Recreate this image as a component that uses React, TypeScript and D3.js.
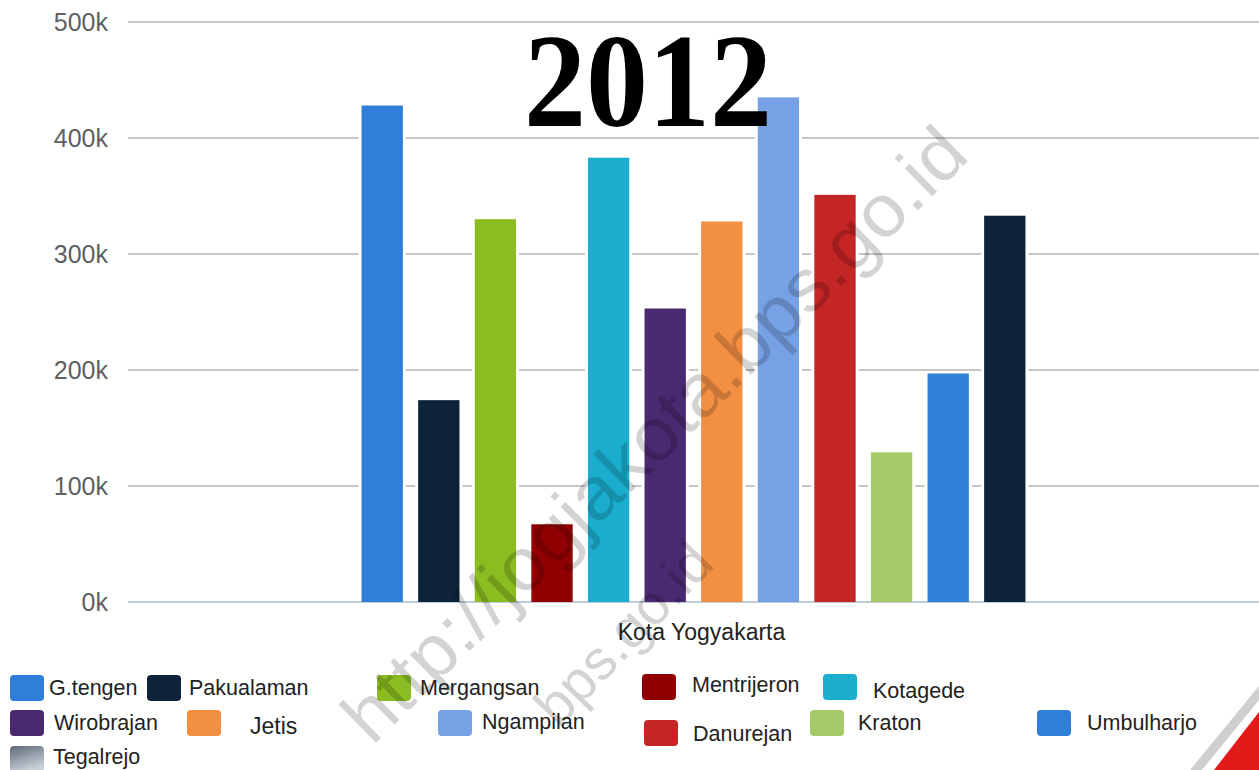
import { useEffect } from 'react'
import * as d3 from 'd3'

const categories = ['Kota Yogyakarta']
const districts = [
  'G.tengen',
  'Pakualaman',
  'Mergangsan',
  'Mentrijeron',
  'Kotagede',
  'Wirobrajan',
  'Jetis',
  'Ngampilan',
  'Danurejan',
  'Kraton',
  'Umbulharjo',
  'Tegalrejo',
]
const values2012 = [428000, 174000, 330000, 67000, 383000, 253000, 328000, 435000, 351000, 129000, 197000, 333000]
const yTicks = [0, 100000, 200000, 300000, 400000, 500000]
const title = '2012'
const watermark = 'http://jogjakota.bps.go.id'
const watermark2 = 'bps.go.id'

const COLORS = [
  '#2f7ed8',
  '#0d233a',
  '#8bbc21',
  '#910000',
  '#1aadce',
  '#492970',
  '#f28f43',
  '#77a1e5',
  '#c42525',
  '#a6c96a',
  '#2f7ed8',
  '#0d233a',
]

// legend is laid out by hand in the original, so keep its slots separately
const LEGEND_SLOTS: { ix: number; iy: number; tx: number; ty: number; size?: number }[] = [
  { ix: 10, iy: 675, tx: 49, ty: 688 },
  { ix: 147, iy: 675, tx: 189, ty: 688 },
  { ix: 377, iy: 675, tx: 420, ty: 688 },
  { ix: 642, iy: 674, tx: 692, ty: 685 },
  { ix: 823, iy: 674, tx: 873, ty: 691 },
  { ix: 10, iy: 710, tx: 54, ty: 723 },
  { ix: 187, iy: 710, tx: 250, ty: 726, size: 23 },
  { ix: 438, iy: 710, tx: 482, ty: 722 },
  { ix: 644, iy: 720, tx: 693, ty: 734 },
  { ix: 810, iy: 710, tx: 858, ty: 723 },
  { ix: 1037, iy: 710, tx: 1087, ty: 723 },
  { ix: 10, iy: 746, tx: 53, ty: 757 },
]

const FONT = '"Liberation Sans", Arial, sans-serif'

export default function App() {
  useEffect(() => {
    document.body.style.margin = '0'
  }, [])

  const width = 1259
  const height = 770
  const plot = { left: 128, right: 1259, top: 22, bottom: 602 }

  const y = d3.scaleLinear().domain([0, 500000]).range([plot.bottom, plot.top])
  const group = d3
    .scaleBand<string>()
    .domain(categories)
    .range([plot.left, plot.right])
    .paddingInner(0)
    .paddingOuter(1 / 3)
  const g0 = group(categories[0]) ?? 0
  const x = d3
    .scaleBand<string>()
    .domain(districts)
    .range([g0, g0 + group.bandwidth()])
    .paddingInner(0.27)
    .paddingOuter(0.13)

  const fmt = (v: number) => `${v / 1000}k`

  return (
    <svg
      width={width}
      height={height}
      viewBox={`0 0 ${width} ${height}`}
      style={{ position: 'absolute', left: 0, top: 0, display: 'block', background: '#fff' }}
    >
      <defs>
        <linearGradient id="teg" x1="0" y1="0" x2="0.4" y2="1">
          <stop offset="0%" stopColor="#5d6978" />
          <stop offset="100%" stopColor="#c9d0d8" />
        </linearGradient>
      </defs>
      <rect width={width} height={height} fill="#fff" />

      {yTicks.map(t => (
        <g key={t}>
          <line
            x1={plot.left}
            x2={plot.right}
            y1={y(t)}
            y2={y(t)}
            stroke={t === 0 ? '#c0ccd8' : '#c6c6c6'}
            strokeWidth={2}
          />
          <text
            x={108}
            y={y(t)}
            textAnchor="end"
            dominantBaseline="central"
            fill="#606060"
            fontFamily={FONT}
            fontSize={25}
          >
            {fmt(t)}
          </text>
        </g>
      ))}

      {districts.map((d, i) => {
        const bx = x(d) ?? 0
        const top = y(values2012[i])
        return (
          <g key={d}>
            <rect x={bx - 3} y={top - 2} width={x.bandwidth() + 6} height={plot.bottom - top + 1} fill="#fff" />
            <rect x={bx} y={top} width={x.bandwidth()} height={plot.bottom - top} fill={COLORS[i]} />
          </g>
        )
      })}

      <text
        x={g0 + group.bandwidth() / 2 + 8}
        y={632}
        textAnchor="middle"
        dominantBaseline="central"
        fill="#222"
        fontFamily={FONT}
        fontSize={23}
      >
        {categories[0]}
      </text>

      <text
        x={648}
        y={126}
        textAnchor="middle"
        fontFamily='"Liberation Serif", "Times New Roman", serif'
        fontWeight="bold"
        fontSize={134}
        fill="#000"
        textLength={248}
        lengthAdjust="spacingAndGlyphs"
      >
        {title}
      </text>

      {districts.map((d, i) => {
        const s = LEGEND_SLOTS[i]
        return (
          <g key={`lg-${d}`}>
            <rect
              x={s.ix}
              y={s.iy}
              width={34}
              height={26}
              rx={4}
              fill={d === 'Tegalrejo' ? 'url(#teg)' : COLORS[i]}
            />
            <text
              x={s.tx}
              y={s.ty}
              dominantBaseline="central"
              fill="#222"
              fontFamily={FONT}
              fontSize={s.size ?? 21.5}
            >
              {d}
            </text>
          </g>
        )
      })}

      <g transform="translate(654,434) rotate(-44.5)" opacity={0.17}>
        <text
          x={0}
          y={0}
          textAnchor="middle"
          dominantBaseline="central"
          fontFamily={FONT}
          fontSize={74}
          fill="#000"
          textLength={840}
          lengthAdjust="spacingAndGlyphs"
        >
          {watermark}
        </text>
      </g>
      <g transform="translate(702,552) rotate(-46)" opacity={0.17}>
        <text
          x={0}
          y={0}
          textAnchor="end"
          dominantBaseline="central"
          fontFamily={FONT}
          fontSize={56}
          fill="#000"
        >
          {watermark2}
        </text>
      </g>

      <polygon points="1190,770 1259,686 1259,700 1202,770" fill="#cfcfcf" />
      <polygon points="1214,770 1259,712 1259,770" fill="#e31a1a" />
    </svg>
  )
}
